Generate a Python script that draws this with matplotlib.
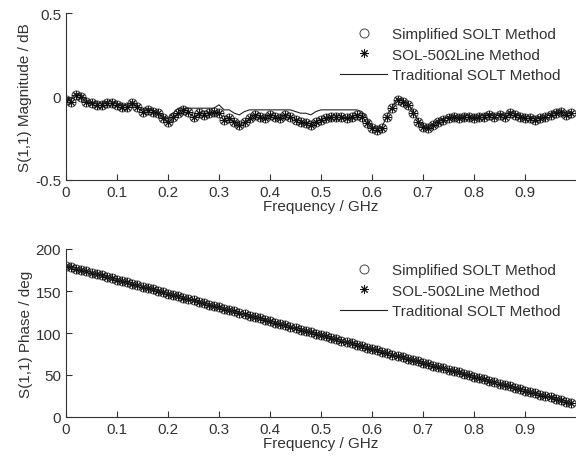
import matplotlib
matplotlib.use("Agg")
import matplotlib.pyplot as plt

plt.rcParams["font.family"] = ["Liberation Sans", "DejaVu Sans"]

# frequency points, GHz (step 0.01)
freq = [i / 100 for i in range(100)]

# S(1,1) magnitude, dB
mag_simplified = [
    -0.02, -0.03, 0.01, 0.00, -0.03, -0.04, -0.05, -0.05, -0.04, -0.04,
    -0.05, -0.06, -0.06, -0.04, -0.06, -0.09, -0.08, -0.09, -0.10, -0.13,
    -0.15, -0.12, -0.10, -0.08, -0.09, -0.12, -0.10, -0.11, -0.10, -0.09,
    -0.10, -0.14, -0.13, -0.15, -0.17, -0.15, -0.13, -0.11, -0.12, -0.13,
    -0.11, -0.12, -0.13, -0.11, -0.12, -0.14, -0.15, -0.16, -0.17, -0.15,
    -0.14, -0.13, -0.12, -0.12, -0.12, -0.13, -0.12, -0.11, -0.12, -0.16,
    -0.19, -0.20, -0.19, -0.12, -0.07, -0.02, -0.03, -0.05, -0.10, -0.15,
    -0.18, -0.19, -0.17, -0.15, -0.14, -0.13, -0.12, -0.13, -0.12, -0.12,
    -0.13, -0.12, -0.12, -0.11, -0.12, -0.11, -0.12, -0.10, -0.11, -0.12,
    -0.13, -0.13, -0.14, -0.13, -0.12, -0.11, -0.10, -0.09, -0.11, -0.10,
]
mag_sol = list(mag_simplified)
mag_traditional = [
    -0.01, -0.02, 0.02, 0.01, -0.02, -0.03, -0.04, -0.04, -0.03, -0.03,
    -0.04, -0.05, -0.05, -0.03, -0.05, -0.08, -0.07, -0.08, -0.09, -0.12,
    -0.13, -0.10, -0.07, -0.07, -0.07, -0.07, -0.07, -0.07, -0.07, -0.07,
    -0.05, -0.08, -0.08, -0.10, -0.11, -0.09, -0.08, -0.08, -0.08, -0.08,
    -0.08, -0.08, -0.08, -0.08, -0.08, -0.09, -0.10, -0.10, -0.11, -0.09,
    -0.08, -0.08, -0.08, -0.08, -0.08, -0.08, -0.08, -0.08, -0.09, -0.13,
    -0.18, -0.19, -0.18, -0.11, -0.06, -0.01, -0.02, -0.04, -0.09, -0.14,
    -0.17, -0.18, -0.16, -0.14, -0.13, -0.12, -0.11, -0.12, -0.11, -0.11,
    -0.12, -0.11, -0.11, -0.10, -0.11, -0.10, -0.11, -0.09, -0.10, -0.11,
    -0.12, -0.12, -0.13, -0.12, -0.11, -0.10, -0.09, -0.08, -0.10, -0.09,
]

# S(1,1) phase, deg
phase_simplified = [
    180.0, 178.4, 176.7, 175.1, 173.4, 171.8, 170.1, 168.5, 166.8, 165.2,
    163.5, 161.9, 160.2, 158.6, 156.9, 155.3, 153.6, 152.0, 150.3, 148.7,
    147.0, 145.4, 143.7, 142.1, 140.4, 138.8, 137.1, 135.5, 133.8, 132.2,
    130.5, 128.9, 127.2, 125.6, 123.9, 122.3, 120.6, 119.0, 117.3, 115.7,
    114.0, 112.4, 110.7, 109.1, 107.4, 105.8, 104.1, 102.5, 100.8, 99.2,
    97.5, 95.9, 94.2, 92.6, 90.9, 89.3, 87.6, 86.0, 84.3, 82.7,
    81.0, 79.4, 77.7, 76.1, 74.4, 72.8, 71.1, 69.5, 67.8, 66.2,
    64.5, 62.9, 61.2, 59.6, 57.9, 56.3, 54.6, 53.0, 51.3, 49.7,
    48.0, 46.4, 44.7, 43.1, 41.4, 39.8, 38.1, 36.5, 34.8, 33.2,
    31.5, 29.9, 28.2, 26.6, 24.9, 23.3, 21.6, 20.0, 18.3, 16.7,
]
phase_sol = list(phase_simplified)
phase_traditional = list(phase_simplified)

labels = ["Simplified SOLT Method", "SOL-50\u03a9Line Method", "Traditional SOLT Method"]
xticks = [0, 0.1, 0.2, 0.3, 0.4, 0.5, 0.6, 0.7, 0.8, 0.9]
xtick_labels = ["0", "0.1", "0.2", "0.3", "0.4", "0.5", "0.6", "0.7", "0.8", "0.9"]

FS = 11
TXT = "#333333"
STAR = (8, 2, 0)


def draw_panel(ax, y_simp, y_sol, y_trad, ylim, yticks, ylabel):
    ax.plot(freq, y_simp, linestyle="none", marker="o", markersize=6.5,
            markerfacecolor="none", markeredgecolor="#444444", markeredgewidth=0.7,
            label=labels[0])
    ax.plot(freq, y_sol, linestyle="none", marker=STAR, markersize=6,
            color="#111111", markeredgewidth=0.7, label=labels[1])
    ax.plot(freq, y_trad, color="#222222", linewidth=0.8, label=labels[2])

    ax.set_xlim(0, 1)
    ax.set_ylim(*ylim)
    ax.set_xticks(xticks)
    ax.set_xticklabels(xtick_labels)
    ax.set_yticks(yticks)
    ax.tick_params(direction="in", length=4, labelsize=FS, width=0.8,
                   labelcolor=TXT, color="#333333")
    for side in ("top", "right"):
        ax.spines[side].set_visible(False)
    for side in ("left", "bottom"):
        ax.spines[side].set_color("#333333")
    ax.set_xlabel("Frequency / GHz", fontsize=FS, labelpad=0, color=TXT)
    ax.set_ylabel(ylabel, fontsize=FS, labelpad=2, color=TXT)
    leg = ax.legend(loc="upper left", bbox_to_anchor=(0.537, 0.915), frameon=False,
                    fontsize=FS, numpoints=1, handlelength=3.1, handletextpad=0.3,
                    labelspacing=0.42, borderaxespad=0, borderpad=0)
    for t in leg.get_texts():
        t.set_color(TXT)


fig = plt.figure(figsize=(5.76, 4.64), dpi=100)
ax1 = fig.add_axes([66 / 576, 1 - 181 / 464, 510 / 576, 167 / 464])
ax2 = fig.add_axes([66 / 576, 1 - 418 / 464, 510 / 576, 168 / 464])

draw_panel(ax1, mag_simplified, mag_sol, mag_traditional,
           (-0.5, 0.5), [-0.5, 0, 0.5], "S(1,1) Magnitude / dB")
ax1.set_yticklabels(["-0.5", "0", "0.5"])
draw_panel(ax2, phase_simplified, phase_sol, phase_traditional,
           (0, 200), [0, 50, 100, 150, 200], "S(1,1) Phase / deg")

fig.savefig("out.png", dpi=100)
